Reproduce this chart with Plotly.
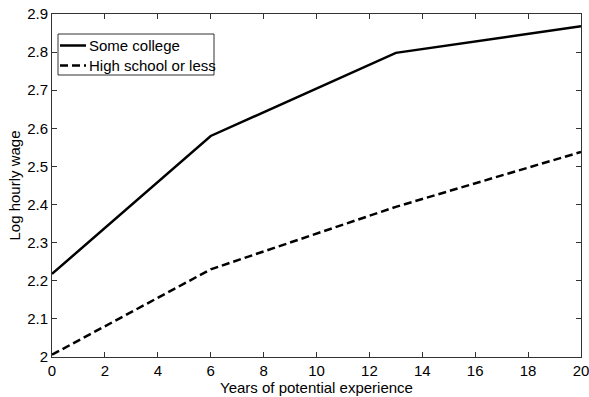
import plotly.graph_objects as go

# Experience profiles of log hourly wages by education group
experience = [0, 6, 13, 20]
some_college = [2.218, 2.580, 2.798, 2.868]
high_school = [2.006, 2.230, 2.394, 2.538]
series_names = ["Some college", "High school or less"]
series_dash = ["solid", "8px,4px"]

x_ticks = list(range(0, 21, 2))
y_ticks = [2.0, 2.1, 2.2, 2.3, 2.4, 2.5, 2.6, 2.7, 2.8, 2.9]
y_tick_text = ["2", "2.1", "2.2", "2.3", "2.4", "2.5", "2.6", "2.7", "2.8", "2.9"]

font_family = "Liberation Sans, Arial, sans-serif"
fs = 15
W, H = 589, 397
ML, MR, MT, MB = 52, 8, 14, 40
PW, PH = W - ML - MR, H - MT - MB


def px_x(p):
    return (p - ML) / PW


def px_y(p):
    return 1 - (p - MT) / PH


fig = go.Figure()
for ys, name, dash in zip([some_college, high_school], series_names, series_dash):
    fig.add_trace(go.Scatter(
        x=experience, y=ys, mode="lines", name=name, showlegend=False,
        line=dict(color="black", width=2.5, dash=dash),
    ))

axis_common = dict(
    showgrid=False, zeroline=False, automargin=False,
    ticklabeloverflow="allow",
    showline=True, linecolor="#333", linewidth=1, mirror="ticks",
    ticks="inside", ticklen=5, tickcolor="#333", tickwidth=1,
    tickfont=dict(family=font_family, size=fs, color="black"),
)

# Boxed legend in the upper-left corner of the axes
shapes = [dict(
    type="rect", xref="paper", yref="paper",
    x0=px_x(58), x1=px_x(214), y0=px_y(75), y1=px_y(34),
    line=dict(color="#333", width=1), fillcolor="white", layer="above",
)]
annotations = []
for i, (name, dash) in enumerate(zip(series_names, series_dash)):
    yy = px_y(45.5 + 20 * i)
    shapes.append(dict(
        type="line", xref="paper", yref="paper",
        x0=px_x(60), x1=px_x(86), y0=yy, y1=yy,
        line=dict(color="black", width=2.5, dash=dash), layer="above",
    ))
    annotations.append(dict(
        xref="paper", yref="paper", x=px_x(86.5), y=yy,
        xanchor="left", yanchor="middle", showarrow=False,
        text=name, font=dict(family=font_family, size=fs, color="black"),
    ))

fig.update_layout(
    width=W, height=H,
    margin=dict(l=ML, r=MR, t=MT, b=MB),
    paper_bgcolor="white", plot_bgcolor="white",
    font=dict(family=font_family, size=fs, color="black"),
    xaxis=dict(
        range=[0, 20], tickvals=x_ticks,
        title=dict(text="Years of potential experience", standoff=2,
                   font=dict(family=font_family, size=fs)),
        **axis_common,
    ),
    yaxis=dict(
        range=[2.0, 2.9], tickvals=y_ticks, ticktext=y_tick_text,
        title=dict(text="Log hourly wage", standoff=2,
                   font=dict(family=font_family, size=fs)),
        **axis_common,
    ),
    shapes=shapes,
    annotations=annotations,
    showlegend=False,
)

fig.write_html("out.html")
